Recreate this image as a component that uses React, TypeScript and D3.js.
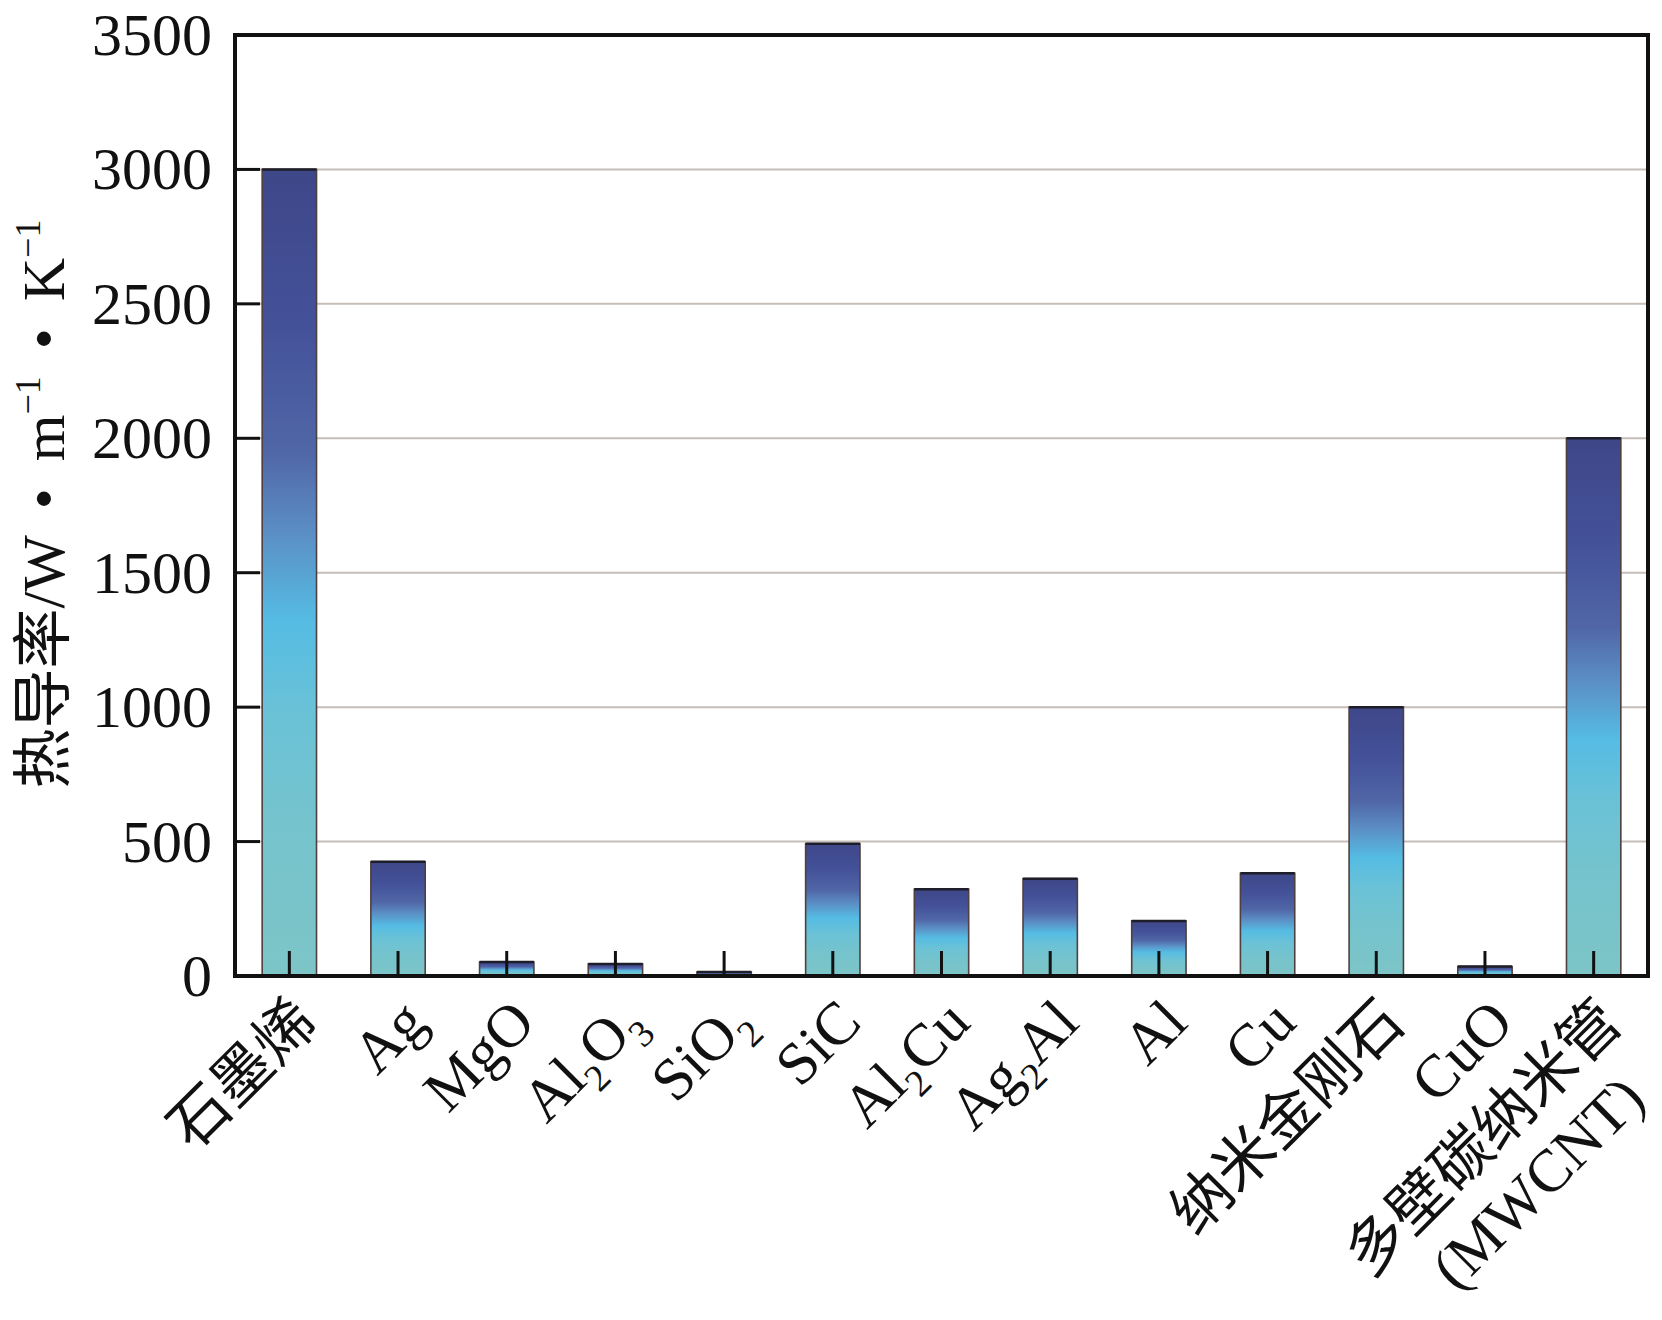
import React from "react";
import * as d3 from "d3";

// ---- data ----
const categories: string[] = [
  "石墨烯", "Ag", "MgO", "Al2O3", "SiO2", "SiC", "Al2Cu", "Ag2Al", "Al", "Cu", "纳米金刚石", "CuO", "MWCNT",
];
// label parts: [text, isSubscript]
const labelLines: [string, boolean][][][] = [
  [[["石墨烯", false]]],
  [[["Ag", false]]],
  [[["MgO", false]]],
  [[["Al", false], ["2", true], ["O", false], ["3", true]]],
  [[["SiO", false], ["2", true]]],
  [[["SiC", false]]],
  [[["Al", false], ["2", true], ["Cu", false]]],
  [[["Ag", false], ["2", true], ["Al", false]]],
  [[["Al", false]]],
  [[["Cu", false]]],
  [[["纳米金刚石", false]]],
  [[["CuO", false]]],
  [[["多壁碳纳米管", false]], [["(MWCNT)", false]]],
];
const values: number[] = [3000, 425, 52, 45, 15, 492, 323, 362, 205, 382, 1000, 35, 2000];
const yTicks: number[] = [0, 500, 1000, 1500, 2000, 2500, 3000, 3500];

const W = 1662;
const H = 1320;
const left = 235;
const right = 1648;
const top = 35;
const bottom = 976;
const FONT = "'Liberation Serif','Times New Roman','Noto Sans CJK SC',serif";
const XFS = 60;

export default function App() {
  const x = d3.scaleBand<string>().domain(categories).range([left, right]).paddingInner(0.5).paddingOuter(0.25);
  const y = d3.scaleLinear().domain([0, 3500]).range([bottom, top]);
  const bw = x.bandwidth();

  return (
    <svg
      width={W}
      height={H}
      viewBox={`0 0 ${W} ${H}`}
      style={{ position: "absolute", left: 0, top: 0, background: "#fff" }}
      fontFamily={FONT}
    >
      <defs>
        <linearGradient id="barGrad" x1="0" y1="0" x2="0" y2="1">
          <stop offset="0" stopColor="#3e4788" />
          <stop offset="0.2" stopColor="#44529a" />
          <stop offset="0.35" stopColor="#5066a6" />
          <stop offset="0.45" stopColor="#5b8ec4" />
          <stop offset="0.56" stopColor="#55bce3" />
          <stop offset="0.68" stopColor="#6bc2d6" />
          <stop offset="0.82" stopColor="#75c3cc" />
          <stop offset="1" stopColor="#7dc5c7" />
        </linearGradient>
      </defs>

      {/* gridlines */}
      {yTicks
        .filter((t) => t > 0 && t < 3500)
        .map((t) => (
          <line key={"g" + t} x1={left} x2={right} y1={y(t)} y2={y(t)} stroke="#c6beb8" strokeWidth={2} />
        ))}

      {/* bars */}
      {categories.map((c, i) => {
        const bx = x(c)!;
        const by = y(values[i]);
        return (
          <g key={"b" + c}>
            <rect x={bx} y={by} width={bw} height={bottom - by} fill="url(#barGrad)" stroke="#4e403e" strokeWidth={1.6} />
            <line x1={bx} x2={bx + bw} y1={by} y2={by} stroke="#1e1e2a" strokeWidth={2.5} />
          </g>
        );
      })}

      {/* x tick marks (inward) */}
      {categories.map((c) => {
        const cx = x(c)! + bw / 2;
        return <line key={"xt" + c} x1={cx} x2={cx} y1={bottom} y2={bottom - 25} stroke="#111" strokeWidth={3} />;
      })}

      {/* y ticks (inward) */}
      {yTicks.map((t) => (
        <line key={"yt" + t} x1={left} x2={left + 25} y1={y(t)} y2={y(t)} stroke="#111" strokeWidth={3} />
      ))}

      {/* frame */}
      <rect x={left} y={top} width={right - left} height={bottom - top} fill="none" stroke="#111" strokeWidth={4} />

      {/* y tick labels */}
      {yTicks.map((t) => (
        <text key={"yl" + t} x={212} y={y(t) + 20} textAnchor="end" fontSize={60} fill="#111">
          {t}
        </text>
      ))}

      {/* x labels */}
      {categories.map((c, i) => {
        const cx = x(c)! + bw / 2;
        const ax = cx + 31;
        const ay = bottom + 49;
        const lines = labelLines[i];
        return (
          <text key={"xl" + c} transform={`translate(${ax},${ay}) rotate(-45)`} textAnchor="end" fontSize={XFS} fill="#111">
            {lines.map((parts, li) => {
              let shift = 0;
              const lineX = li === 0 ? 0 : -38;
              return parts.map(([txt, sub], pi) => {
                let dy = 0;
                if (pi === 0) {
                  dy = li === 0 ? 0 : 70;
                }
                if (sub) {
                  dy += 15 - shift;
                  shift = 15;
                } else if (shift) {
                  dy += -shift;
                  shift = 0;
                }
                return (
                  <tspan
                    key={li + "-" + pi}
                    x={pi === 0 ? lineX : undefined}
                    dy={dy}
                    fontSize={sub ? 38 : XFS}
                  >
                    {txt}
                  </tspan>
                );
              });
            })}
          </text>
        );
      })}

      {/* y axis title */}
      <text transform={`translate(64,504) rotate(-90)`} textAnchor="middle" fontSize={60} fill="#111">
        <tspan>热导率/W</tspan>
        <tspan dx={12}> • </tspan>
        <tspan dx={12}>m</tspan>
        <tspan fontSize={36} dy={-24}>−1</tspan>
        <tspan dy={24} dx={12}> • </tspan>
        <tspan dx={12}>K</tspan>
        <tspan fontSize={36} dy={-24}>−1</tspan>
      </text>
    </svg>
  );
}
